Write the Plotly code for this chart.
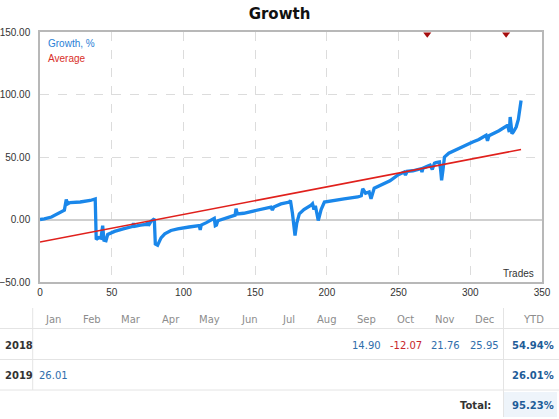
import plotly.graph_objects as go

# growth curve, % by trade number
trade_no = [0, 3, 8, 14, 17, 18.3, 19.3, 21, 28, 35, 38.5, 39.2, 41, 42.5, 43.7, 44.6, 46, 47.2,
            52, 58, 64.6, 65.2, 66, 70, 74, 75, 75.6, 77.4, 79.7, 80.4, 82, 84.4, 87, 91.3, 96,
            104, 111, 111.7, 112.4, 116, 120.4, 121.5, 122.2, 123, 124, 130, 136, 136.7, 137.6,
            142, 149.5, 155, 161, 162, 163, 168, 173.9, 174.6, 176, 177.8, 179, 180.8, 184, 189,
            190, 191, 192, 194, 196, 198.3, 205, 212, 221.5, 224, 225, 227, 229.5, 230.8, 233,
            238, 244, 249.4, 252, 254, 254.8, 256, 260, 265.7, 266.3, 267, 270, 272, 273.5, 275,
            276, 278.5, 279.3, 280, 281, 282, 285, 289, 295, 301.7, 306, 311, 312, 313, 320, 326,
            327.2, 327.8, 328.5, 329, 330, 332, 333.5, 335.4]
growth = [0, 0.5, 2, 6, 7.5, 16, 12.5, 13.5, 14, 15.2, 16.5, -16, -14.5, -15, -5, -16.5, -17, -12,
          -9.5, -7.5, -5.6, -3, -5.5, -4.5, -4, -2, -5, -1.5, 0.5, -19.5, -20.5, -14.7, -11.5, -8.8, -7.5,
          -6, -4.8, -8.3, -4.5, -2.5, 0.5, 1, -5, -4.5, -1, 1.5, 3.5, 8.6, 4.5,
          5, 7, 8.5, 9.9, 7.5, 10, 12.5, 14, 15.2, 5, -12.8, -3, 4.5, 8, 11.5,
          12.6, 8, 11, -0.8, 8, 14, 15.5, 16.5, 18, 19, 24.6, 21, 22, 16.6, 25,
          27.5, 31, 35.5, 37, 38, 35.5, 38.5, 39, 40.6, 38, 41, 42.5, 43.5, 40, 45,
          45.5, 46, 40, 31.3, 40, 50, 53, 55.3, 58, 62, 64, 67.4, 63, 67, 71, 75.4,
          70, 82, 75, 68.7, 70, 74, 80, 95.2]

# average (trend) line end points
avg_x = [0, 335.4]
avg_y = [-18, 56]

# markers on the top edge
mark_x = [270, 325]
mark_y = [148.3, 148.3]

# monthly table
months = ["Jan", "Feb", "Mar", "Apr", "May", "Jun", "Jul", "Aug", "Sep", "Oct", "Nov", "Dec"]
years = ["2018", "2019"]
monthly = [
    [None, None, None, None, None, None, None, None, 14.90, -12.07, 21.76, 25.95],
    [26.01, None, None, None, None, None, None, None, None, None, None, None],
]
ytd = [54.94, 26.01]
total = 95.23

W, H = 559, 419
L, R, T, B = 40, 542, 32, 282


def fx(px):
    return (px - L) / (R - L)


def fy(py):
    return (B - py) / (B - T)


fig = go.Figure()

fig.add_trace(go.Scatter(x=trade_no, y=growth, mode="lines",
                         line=dict(color="#1a87ea", width=3.3), hoverinfo="skip"))
fig.add_trace(go.Scatter(x=avg_x, y=avg_y, mode="lines",
                         line=dict(color="#e0201c", width=1.6), hoverinfo="skip"))
fig.add_trace(go.Scatter(x=mark_x, y=mark_y, mode="markers",
                         marker=dict(symbol="triangle-down", size=7, color="#a50d0d"),
                         hoverinfo="skip"))

tick_font = dict(family="Liberation Sans, Arial", size=10, color="#333333")

fig.update_xaxes(range=[0, 350], tickvals=[0, 50, 100, 150, 200, 250, 300, 350],
                 showgrid=True, gridcolor="#dcdcdc", griddash="dash", gridwidth=1,
                 zeroline=False, showline=True, linecolor="#b8b8b8", linewidth=1.5, mirror=True,
                 ticks="", tickfont=tick_font, automargin=False)
fig.update_yaxes(range=[-50, 150], tickvals=[-50, 0, 50, 100, 150], tickformat=".2f",
                 showgrid=True, gridcolor="#dcdcdc", griddash="dash", gridwidth=1,
                 zeroline=True, zerolinecolor="#cfcfcf", zerolinewidth=1.5,
                 showline=True, linecolor="#b8b8b8", linewidth=1.5, mirror=True,
                 ticks="", ticklabelstandoff=6, tickfont=tick_font, automargin=False)

ann = []
ann.append(dict(text="Growth, %", x=fx(46), y=fy(43), xanchor="left", yanchor="middle",
                font=dict(family="Liberation Sans, Arial", size=10, color="#2a7fd6")))
ann.append(dict(text="Average", x=fx(46), y=fy(58), xanchor="left", yanchor="middle",
                font=dict(family="Liberation Sans, Arial", size=10, color="#d9302a")))
ann.append(dict(text="Trades", x=fx(536), y=fy(273), xanchor="right", yanchor="middle",
                font=dict(family="Liberation Sans, Arial", size=10, color="#333333")))

# table layout
col_x = [53 + 39.2 * i for i in range(12)]
ytd_x = 533
row_y = [345, 375]
tfont = "DejaVu Sans, Verdana"

for m, cx in zip(months, col_x):
    ann.append(dict(text=m, x=fx(cx), y=fy(319), xanchor="center", yanchor="middle",
                    font=dict(family=tfont, size=10, color="#8c8c8c")))
ann.append(dict(text="YTD", x=fx(ytd_x), y=fy(319), xanchor="center", yanchor="middle",
                font=dict(family=tfont, size=10, color="#8c8c8c")))

for yr, vals, yv, ry in zip(years, monthly, ytd, row_y):
    ann.append(dict(text="<b>%s</b>" % yr, x=fx(3), y=fy(ry), xanchor="left", yanchor="middle",
                    font=dict(family=tfont, size=10, color="#333333")))
    for v, cx in zip(vals, col_x):
        if v is None:
            continue
        ann.append(dict(text="%.2f" % v, x=fx(cx), y=fy(ry), xanchor="center", yanchor="middle",
                        font=dict(family=tfont, size=10, color="#c8262b" if v < 0 else "#2f6eab")))
    ann.append(dict(text="<b>%.2f%%</b>" % yv, x=fx(ytd_x), y=fy(ry), xanchor="center",
                    yanchor="middle", font=dict(family=tfont, size=10, color="#1e5c98")))

ann.append(dict(text="<b>Total:</b>", x=fx(493), y=fy(405), xanchor="right", yanchor="middle",
                font=dict(family=tfont, size=10, color="#333333")))
ann.append(dict(text="<b>%.2f%%</b>" % total, x=fx(ytd_x), y=fy(405), xanchor="center",
                yanchor="middle", font=dict(family=tfont, size=10, color="#1e5c98")))

for a in ann:
    a.update(xref="paper", yref="paper", showarrow=False)

line_c = "#e4e4e4"
shapes = [
    dict(type="rect", x0=fx(503.5), x1=fx(557), y0=fy(392), y1=fy(417),
         fillcolor="#eef4fa", line_width=0, layer="below"),
    dict(type="line", x0=fx(0), x1=fx(559), y0=fy(328.5), y1=fy(328.5), line=dict(color=line_c, width=1)),
    dict(type="line", x0=fx(0), x1=fx(559), y0=fy(359.5), y1=fy(359.5), line=dict(color=line_c, width=1)),
    dict(type="line", x0=fx(0), x1=fx(559), y0=fy(390), y1=fy(390), line=dict(color=line_c, width=1)),
    dict(type="line", x0=fx(32.7), x1=fx(32.7), y0=fy(308), y1=fy(390), line=dict(color=line_c, width=1)),
    dict(type="line", x0=fx(503.5), x1=fx(503.5), y0=fy(308), y1=fy(417), line=dict(color=line_c, width=1)),
]
for s in shapes:
    s.update(xref="paper", yref="paper")

fig.update_layout(
    width=W, height=H,
    margin=dict(l=L, r=W - R, t=T, b=H - B),
    paper_bgcolor="white", plot_bgcolor="white",
    showlegend=False,
    title=dict(text="<b>Growth</b>", x=0.5, xanchor="center", y=1 - 14 / H, yanchor="middle",
               font=dict(family="DejaVu Sans, Verdana", size=15, color="#111111")),
    annotations=ann,
    shapes=shapes,
)

# drop the page's default body margin so the figure sits at the window corner
fig.write_html("out.html", config={"displayModeBar": False},
               post_script="document.body.style.margin='0';")
